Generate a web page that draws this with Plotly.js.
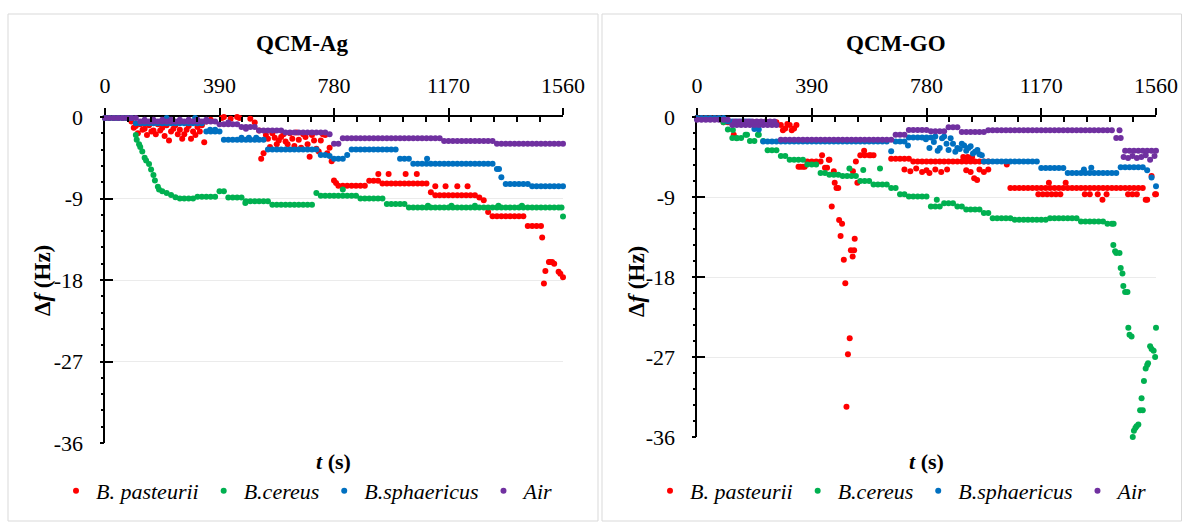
<!DOCTYPE html>
<html>
<head>
<meta charset="utf-8">
<script src="https://cdn.plot.ly/plotly-3.0.1.min.js"></script>
<style>html,body{margin:0;padding:0;background:#fff;}#chart{width:1182px;height:523px;}</style>
</head>
<body>
<div id="chart"></div>
<script>
// ---------- DATA ----------
const seriesNames = ['B. pasteurii', 'B.cereus', 'B.sphaericus', 'Air'];
const panelTitles = ['QCM-Ag', 'QCM-GO'];
const xTickVals = [0, 390, 780, 1170, 1560];
const xTickText = ['0', '390', '780', '1170', '1560'];
const yTickVals = [0, -9, -18, -27, -36];
const yTickText = ['0', '-9', '-18', '-27', '-36'];

// time (s) of the sampled readings
const T = [0,15,30,45,60,75,90,105,120,135,150,165,180,195,210,225,240,255,270,285,300,315,330,345,360,375,390,405,420,435,450,465,480,495,510,525,540,555,570,585,600,615,630,645,660,675,690,705,720,735,750,765,780,795,810,825,840,855,870,885,900,915,930,945,960,975,990,1005,1020,1035,1050,1065,1080,1095,1110,1125,1140,1155,1170,1185,1200,1215,1230,1245,1260,1275,1290,1305,1320,1335,1350,1365,1380,1395,1410,1425,1440,1455,1470,1485,1500,1515,1530,1545,1560];

// ---- QCM-Ag ----
const agPastY = [-0.1,-0.1,-0.1,-0.1,-0.1,-0.1,-0.5,-1.0,-0.8,-1.3,
 -0.9,-1.5,-0.8,-1.2,-0.9,-1.6,-0.9,-1.4,-1.9,-1.0,
 -1.6,-1.1,-0.9,-0.5,-0.3,0.1,0.2,0.0,0.2,0.1,
 0.0,0.3,0.1,-0.2,-0.6,-1.5,-4.0,-2.4,-1.8,-3.0,
 -2.2,-2.7,-1.8,-3.2,-2.5,-1.9,-3.0,-2.0,-3.5,-2.6,
 -2.0,-3.4,-7.0,-7.6,-7.6,-7.6,-7.6,-7.6,-7.6,-7.6,
 -7.05,-7.05,-7.05,-7.35,-7.35,-7.35,-7.35,-7.35,-7.35,-7.35,
 -7.35,-7.35,-7.35,-7.35,-8.3,-8.65,-8.65,-8.65,-8.65,-8.65,
 -8.65,-8.65,-8.65,-8.65,-8.65,-8.9,-9.2,-10.5,-10.95,-10.95,
 -10.95,-10.95,-10.95,-10.95,-10.95,-10.95,-12.05,-12.05,-12.05,-12.05,
 -17.0,-16.0,-16.2,-17.1,-17.7];
const agPastExtraT = [98,112,128,143,158,173,188,203,218,233,248,263,278,293,308,323,338,
 383,398,413,428,443,458,473,488,
 532,548,562,578,592,608,622,638,652,668,683,697,712,728,742,757,772,787,
 931,966,1024,1062,1125,1160,1200,1235,1489,1495,1512,1523,1551];
const agPastExtraY = [-1.2,-1.8,-1.4,-2.0,-1.6,-1.9,-1.5,-2.1,-2.6,-1.3,-1.9,-2.4,-1.4,-2.4,-2.0,-1.6,-2.8,
 0.3,-0.1,0.3,-0.2,0.2,-0.1,0.1,0.3,
 -4.6,-2.0,-3.3,-2.3,-2.6,-1.9,-3.0,-2.4,-1.7,-3.4,-2.2,-4.4,-2.6,-3.8,-1.9,-4.0,-4.9,-7.3,
 -6.3,-6.3,-6.3,-6.3,-7.65,-7.65,-7.65,-7.65,-13.3,-18.4,-16.0,-16.0,-17.3];

const agCerY = [-0.1,-0.1,-0.1,-0.1,-0.1,-0.1,-0.1,-2.0,-3.3,-4.5,
 -5.2,-6.4,-7.7,-8.2,-8.4,-8.6,-8.85,-9.0,-9.0,-9.0,
 -9.0,-8.8,-8.8,-8.8,-8.8,-8.8,-8.2,-8.2,-8.9,-8.9,
 -8.9,-8.9,-9.3,-9.3,-9.3,-9.3,-9.3,-9.3,-9.7,-9.7,
 -9.7,-9.7,-9.7,-9.7,-9.7,-9.7,-9.7,-9.7,-8.4,-8.7,
 -8.7,-8.7,-8.7,-8.7,-8.7,-8.7,-8.7,-8.7,-9.0,-9.0,
 -9.0,-9.0,-9.0,-9.0,-9.6,-9.6,-9.6,-9.6,-9.6,-10.0,
 -10.0,-10.0,-10.0,-10.0,-10.0,-10.0,-10.0,-10.0,-10.0,-10.0,
 -10.0,-10.0,-10.0,-10.0,-10.0,-10.0,-10.0,-10.0,-10.0,-10.0,
 -10.0,-10.0,-10.0,-10.0,-10.0,-10.0,-10.0,-10.0,-10.0,-10.0,
 -10.0,-10.0,-10.0,-10.0,-11.0];
const agCerExtraT = [108,116,127,140,157,170,184,478,810,1100,1180,1260,1340,1420,1555];
const agCerExtraY = [-2.5,-3.0,-3.8,-4.8,-5.8,-7.0,-8.0,-9.5,-8.0,-9.8,-9.8,-9.8,-9.8,-9.8,-10.0];

const agSphY = [-0.1,-0.1,-0.1,-0.1,-0.1,-0.1,-0.1,-0.7,-0.7,-0.7,
 -0.7,-0.7,-0.7,-0.7,-0.7,-0.7,-0.7,-0.7,-0.7,-0.7,
 -0.7,-0.7,-0.7,-1.6,-1.6,-1.6,-1.6,-2.5,-2.5,-2.5,
 -2.5,-2.5,-2.5,-2.5,-2.5,-2.5,-2.5,-3.6,-3.6,-3.6,
 -3.6,-3.6,-3.6,-3.6,-3.6,-3.6,-3.6,-3.6,-3.6,-4.2,
 -4.2,-4.3,-4.6,-4.6,-4.6,-4.2,-3.6,-3.6,-3.6,-3.6,
 -3.6,-3.6,-3.6,-3.6,-3.6,-3.6,-3.6,-4.6,-4.6,-4.6,
 -5.15,-5.15,-5.15,-5.15,-5.15,-5.15,-5.15,-5.15,-5.15,-5.15,
 -5.15,-5.15,-5.15,-5.15,-5.15,-5.15,-5.15,-5.15,-5.15,-5.75,
 -6.65,-7.4,-7.4,-7.4,-7.4,-7.4,-7.4,-7.65,-7.65,-7.65,
 -7.65,-7.65,-7.65,-7.65,-7.65];
const agSphExtraT = [210,307,358,375,465,490,515,1097,1342];
const agSphExtraY = [-0.1,-0.1,-1.4,-1.4,-2.3,-2.3,-2.3,-4.6,-5.75];

const agAirY = [-0.1,-0.1,-0.1,-0.1,-0.1,-0.1,-0.1,-0.1,-0.5,-0.5,
 -0.5,-0.5,-0.5,-0.5,-0.5,-0.5,-0.5,-0.5,-0.5,-0.5,
 -0.5,-0.5,-0.5,-0.5,-0.5,-0.5,-0.8,-0.8,-0.8,-0.8,
 -0.8,-1.1,-1.1,-1.1,-1.1,-1.5,-1.5,-1.5,-1.5,-1.5,
 -1.5,-1.7,-1.7,-1.7,-1.7,-1.7,-1.7,-1.7,-1.7,-1.7,
 -1.7,-1.9,-2.95,-2.95,-2.35,-2.35,-2.35,-2.35,-2.35,-2.35,
 -2.35,-2.35,-2.35,-2.35,-2.35,-2.35,-2.35,-2.35,-2.35,-2.35,
 -2.35,-2.35,-2.35,-2.35,-2.35,-2.35,-2.35,-2.65,-2.65,-2.65,
 -2.65,-2.65,-2.65,-2.65,-2.65,-2.65,-2.65,-2.65,-2.65,-2.95,
 -2.95,-2.95,-2.95,-2.95,-2.95,-2.95,-2.95,-2.95,-2.95,-2.95,
 -2.95,-2.95,-2.95,-2.95,-2.95];
const agAirExtraT = [135,165,195,225,255,285,315,345,420,480];
const agAirExtraY = [-0.3,-0.3,-0.3,-0.3,-0.3,-0.3,-0.3,-0.3,-0.6,-1.3];

// ---- QCM-GO ----  (null = no reading shown at that time)
const goPastY = [-0.1,-0.1,-0.1,-0.1,-0.1,-0.1,-0.6,-0.6,-0.6,-0.6,
 -0.6,-0.6,-0.6,-0.6,-0.6,-0.6,-0.6,-0.6,-0.6,-0.9,
 -1.3,-0.9,-1.3,-5.6,-5.6,-5.0,-5.0,-5.0,-5.0,-5.7,
 -4.8,-6.1,-8.0,null,null,null,-5.0,-4.3,-4.3,-4.3,
 -4.3,null,null,null,-4.7,-4.7,-4.7,-4.7,-4.7,-5.0,
 -5.0,-5.0,-5.0,-5.0,-5.0,-5.0,-5.0,-5.0,-5.0,-5.0,
 -5.0,-5.0,-5.0,-5.0,-5.0,-5.0,-5.0,null,null,null,
 null,-8.0,-8.0,-8.0,-8.0,-8.0,-8.0,-8.0,-8.0,-8.0,
 -8.0,-8.0,-8.0,-8.0,-8.0,-8.0,-8.0,-8.0,-8.0,-8.0,
 -8.0,-8.0,-8.0,-8.0,-8.0,-8.0,-8.0,-8.0,-8.0,-8.0,
 -8.0,-8.0,-9.3,-6.65,-8.7];
const goPastExtraT = [125,292,307,322,338,352,366,425,442,448,458,468,474,
 483,493,488,499,504,519,513,508,536,523,534,529,
 530,545,568,590,
 705,725,745,765,780,790,810,830,850,905,920,935,942,952,915,930,960,975,990,
 1053,1196,1253,1160,1175,1190,1205,1220,1235,1318,1335,1362,1378,1392,1465,1480,1495,1525,1557];
const goPastExtraY = [-2.0,-1.5,-0.8,-1.5,-0.9,-5.6,-5.6,-4.3,-5.7,-4.8,-10.07,-7.4,-8.0,
 -11.6,-12.0,-13.4,-16.05,-18.7,-24.9,-26.7,-32.6,-13.7,-15.0,-15.0,-15.7,
 -6.1,-7.4,-3.8,-4.3,
 -5.9,-6.1,-5.8,-6.2,-6.0,-6.3,-5.9,-6.2,-5.9,-4.5,-4.5,-4.5,-6.9,-7.1,-6.0,-6.2,-5.9,-6.2,-5.9,
 -5.35,-7.4,-7.4,-8.7,-8.7,-8.7,-8.7,-8.7,-8.7,-8.7,-8.7,-8.7,-9.3,-8.7,-8.7,-8.7,-8.7,-9.3,-8.7];

const goCerY = [-0.2,-0.2,-0.2,-0.2,-0.2,-0.2,-0.6,-1.4,-2.35,-2.35,
 -2.35,-2.0,-2.7,-2.7,-2.0,-2.7,-3.75,-3.75,-3.75,-4.4,
 -4.4,-4.8,-4.8,-4.8,-4.8,-5.35,-5.35,-5.35,-6.3,-6.3,
 -6.5,-6.5,-6.5,-6.65,-6.65,-6.65,-6.65,-7.2,-7.2,-7.2,
 -7.6,-7.6,-7.6,-7.6,-8.0,-8.0,-8.7,-8.7,-8.95,-8.95,
 -8.95,-8.95,-8.95,-10.07,-10.07,-10.07,-9.7,-9.7,-9.7,-10.07,
 -10.07,-10.4,-10.4,-10.4,-10.4,-10.8,-10.8,-11.4,-11.4,-11.4,
 -11.4,-11.4,-11.56,-11.56,-11.56,-11.56,-11.56,-11.56,-11.56,-11.56,
 -11.4,-11.4,-11.4,-11.4,-11.4,-11.4,-11.4,-11.75,-11.75,-11.75,
 -11.75,-11.75,-11.75,-12.0,-12.0,-15.3,-17.0,-19.7,-24.5,-35.3,
 -34.6,-33.0,-27.9,-26.1,-23.7];
const goCerExtraT = [122,135,170,207,518,565,622,815,1416,1415,1421,1436,1446,1449,1463,1466,1477,1481,1490,1494,1506,1511,1519,1525,1533,1540,1552,1557];
const goCerExtraY = [-1.46,-2.4,-2.0,-2.0,-5.8,-5.95,-5.8,-9.3,-12.0,-14.4,-15.1,-15.3,-17.6,-19.0,-19.7,-23.7,-24.7,-36.0,-35.0,-34.8,-33.0,-31.65,-29.7,-28.3,-27.7,-25.8,-26.3,-27.0];

const goSphY = [-0.1,-0.1,-0.1,-0.1,-0.1,-0.1,-0.1,-0.5,-0.5,-0.5,
 -0.5,-0.5,-0.5,-1.35,-1.4,-2.75,-2.75,-2.75,-2.75,-2.75,
 -2.75,-2.75,-2.75,-2.75,-2.75,-2.75,-2.75,-2.75,-2.75,-2.75,
 -2.75,-2.75,-2.75,-2.75,-2.75,-2.75,-2.75,-2.75,-2.75,-2.75,
 -2.75,-2.75,-2.75,-2.75,-3.85,-2.75,-2.75,-2.75,-2.3,-2.3,
 -2.3,-2.3,-2.3,-2.3,-2.2,-3.5,-2.2,-3.7,-3.0,-3.5,
 -3.0,-3.8,-3.3,-3.9,-4.2,-5.0,-5.0,-5.0,-5.0,-5.0,
 -5.0,-5.0,-5.0,-5.0,-5.0,-5.0,-5.0,-5.0,-5.75,-5.75,
 -5.75,-5.75,-5.75,-5.75,-6.3,-6.3,-6.3,-6.3,-6.3,-6.3,
 -6.3,-6.3,-6.3,-6.3,-6.3,-6.3,-5.65,-5.65,-5.65,-5.65,
 -5.65,-5.65,-6.0,-6.8,-7.8];
const goSphExtraT = [717,778,790,805,818,833,848,862,878,893,908,923,938,953,968,1315,1340];
const goSphExtraY = [-3.2,-2.5,-3.5,-2.8,-3.8,-2.4,-3.0,-2.4,-3.9,-3.6,-3.2,-3.5,-4.1,-3.7,-4.3,-5.9,-5.7];

const goAirY = [-0.3,-0.3,-0.3,-0.3,-0.3,-0.3,-0.3,-0.3,-0.9,-0.9,
 -0.9,-0.9,-0.9,-0.9,-0.9,-0.9,-0.9,-0.9,-0.9,-2.55,
 -2.55,-2.55,-2.55,-2.55,-2.55,-2.55,-2.55,-2.55,-2.55,-2.55,
 -2.55,-2.55,-2.55,-2.55,-2.55,-2.55,-2.55,-2.55,-2.55,-2.55,
 -2.55,-2.55,-2.55,-2.55,-2.55,-2.0,-2.0,-2.0,-1.45,-1.45,
 -1.45,-1.45,-1.45,-1.6,-1.6,-1.6,-1.6,-1.15,-1.15,-1.15,
 -1.7,-1.7,-1.7,-1.7,-1.7,-1.7,-1.5,-1.5,-1.5,-1.5,
 -1.5,-1.5,-1.5,-1.5,-1.5,-1.5,-1.5,-1.5,-1.5,-1.5,
 -1.5,-1.5,-1.5,-1.5,-1.5,-1.5,-1.5,-1.5,-1.5,-1.5,
 -1.5,-1.5,-1.5,-1.5,-1.5,-2.35,-2.35,-3.8,-3.8,-3.8,
 -3.8,-3.8,-3.8,-3.8,-3.8];
const goAirExtraT = [128,143,158,173,188,203,218,233,248,263,1436,1450,1465,1480,1495,1510,1525,1540,1555];
const goAirExtraY = [-0.5,-0.5,-0.5,-0.5,-0.5,-0.5,-0.5,-0.5,-0.5,-0.5,-1.5,-4.5,-4.6,-4.4,-4.6,-4.5,-4.3,-4.8,-4.4];

// ---------- STYLE ----------
const FONT = '"Liberation Serif", "Times New Roman", Times, serif';
const colors = ['#ff0000', '#00b050', '#0070c0', '#7030a0'];
const W = 1182, H = 523;
const px = v => v / W;
const py = v => 1 - v / H;

function trace(i, xs, ys, exT, exY, xa, ya, leg) {
  const X = [], Y = [];
  xs.forEach((t, k) => { if (ys[k] !== null) { X.push(t); Y.push(ys[k]); } });
  return {
    type: 'scatter', mode: 'markers', name: '<i>' + seriesNames[i] + '</i>',
    x: X.concat(exT), y: Y.concat(exY), xaxis: xa, yaxis: ya, legend: leg,
    marker: { color: colors[i], size: 6 }, cliponaxis: false, hoverinfo: 'skip'
  };
}
// empty helper traces that bring the tick-only overlay axes into existence
function holder(xa, ya) {
  return { type: 'scatter', x: [], y: [], xaxis: xa, yaxis: ya, showlegend: false, hoverinfo: 'skip' };
}

const data = [
  trace(0, T, agPastY, agPastExtraT, agPastExtraY, 'x', 'y', 'legend'),
  trace(1, T, agCerY, agCerExtraT, agCerExtraY, 'x', 'y', 'legend'),
  trace(2, T, agSphY, agSphExtraT, agSphExtraY, 'x', 'y', 'legend'),
  trace(3, T, agAirY, agAirExtraT, agAirExtraY, 'x', 'y', 'legend'),
  trace(0, T, goPastY, goPastExtraT, goPastExtraY, 'x2', 'y2', 'legend2'),
  trace(1, T, goCerY, goCerExtraT, goCerExtraY, 'x2', 'y2', 'legend2'),
  trace(2, T, goSphY, goSphExtraT, goSphExtraY, 'x2', 'y2', 'legend2'),
  trace(3, T, goAirY, goAirExtraT, goAirExtraY, 'x2', 'y2', 'legend2'),
  holder('x3', 'y3'), holder('x4', 'y4'), holder('x5', 'y5'), holder('x6', 'y6')
];

const tickFont = { family: FONT, size: 22, color: '#000' };
const hidden = { showticklabels: false, showline: false, showgrid: false, zeroline: false, fixedrange: true };

function xMain(domain, anchor) {
  return {
    domain, anchor, side: 'top', range: [0, 1560], tickmode: 'array', tickvals: xTickVals, ticktext: xTickText,
    ticks: 'outside', ticklen: 7, tickwidth: 2, tickcolor: '#000', showline: true, linewidth: 2.5, linecolor: '#000',
    showgrid: false, zeroline: false, layer: 'below traces', tickfont: tickFont, ticklabelstandoff: 6, fixedrange: true
  };
}
function yMain(domain, anchor) {
  return {
    domain, anchor, range: [-36, 0], tickmode: 'array', tickvals: yTickVals, ticktext: yTickText,
    ticks: 'outside', ticklen: 3, tickwidth: 2, tickcolor: '#000', showline: true, linewidth: 2.5, linecolor: '#000',
    showgrid: true, gridcolor: '#ebebeb', gridwidth: 1, zeroline: false, layer: 'below traces', tickfont: tickFont,
    ticklabelstandoff: 12, fixedrange: true
  };
}
function xMinor(over, anchor) {
  return Object.assign({ overlaying: over, anchor, side: 'top', range: [0, 1560], tickmode: 'linear', tick0: 0, dtick: 78,
    ticks: 'inside', ticklen: 5, tickwidth: 2, tickcolor: '#000' }, hidden);
}
function yMinor(over, anchor) {
  return Object.assign({ overlaying: over, anchor, side: 'left', range: [-36, 0], tickmode: 'linear', tick0: 0, dtick: 1.8,
    ticks: 'outside', ticklen: 3, tickwidth: 2, tickcolor: '#000' }, hidden);
}
function yInner(over, anchor) {
  return Object.assign({ overlaying: over, anchor, side: 'left', range: [-36, 0], tickmode: 'array', tickvals: yTickVals,
    ticks: 'inside', ticklen: 8, tickwidth: 2, tickcolor: '#000' }, hidden);
}
function xNone(over, anchor) {
  return Object.assign({ overlaying: over, anchor, side: 'top', range: [0, 1560], ticks: '' }, hidden);
}

function ann(text, x, y, size, angle) {
  return { text, x: px(x), y: py(y), xref: 'paper', yref: 'paper', showarrow: false, xanchor: 'center', yanchor: 'middle',
    textangle: angle || 0, font: { family: FONT, size, color: '#000' } };
}

const legendBase = { orientation: 'h', xanchor: 'center', yanchor: 'middle', y: py(491),
  font: { family: FONT, size: 22, color: '#000' }, bgcolor: 'rgba(0,0,0,0)', traceorder: 'normal' };

const layout = {
  width: W, height: H, margin: { l: 0, r: 0, t: 0, b: 0 }, paper_bgcolor: '#fff', plot_bgcolor: '#fff',
  font: { family: FONT, color: '#000' }, showlegend: true,
  xaxis: xMain([px(105), px(563)], 'y'),
  yaxis: yMain([py(443), py(117)], 'x'),
  xaxis2: xMain([px(697), px(1156)], 'y2'),
  yaxis2: yMain([py(437), py(117)], 'x2'),
  xaxis3: xMinor('x', 'y3'),
  yaxis3: yMinor('y', 'x3'),
  xaxis4: xMinor('x2', 'y4'),
  yaxis4: yMinor('y2', 'x4'),
  xaxis5: xNone('x', 'y5'),
  yaxis5: yInner('y', 'x5'),
  xaxis6: xNone('x2', 'y6'),
  yaxis6: yInner('y2', 'x6'),
  legend: Object.assign({}, legendBase, { x: px(308) }),
  legend2: Object.assign({}, legendBase, { x: px(902) }),
  annotations: [
    ann('<b>' + panelTitles[0] + '</b>', 302, 43, 23),
    ann('<b>' + panelTitles[1] + '</b>', 896, 43, 23),
    ann('<b>Δ<i>f</i> (Hz)</b>', 42, 281, 23, -90),
    ann('<b>Δ<i>f</i> (Hz)</b>', 636, 281, 23, -90),
    ann('<b><i>t</i> (s)</b>', 333, 461, 22),
    ann('<b><i>t</i> (s)</b>', 926, 461, 22)
  ],
  shapes: [
    { type: 'rect', xref: 'paper', yref: 'paper', x0: px(8), x1: px(598), y0: py(521), y1: py(14), line: { color: '#d9d9d9', width: 1 }, layer: 'below' },
    { type: 'rect', xref: 'paper', yref: 'paper', x0: px(602), x1: px(1181.5), y0: py(521), y1: py(14), line: { color: '#d9d9d9', width: 1 }, layer: 'below' }
  ]
};

Plotly.newPlot('chart', data, layout, { staticPlot: true, displayModeBar: false });
</script>
</body>
</html>
